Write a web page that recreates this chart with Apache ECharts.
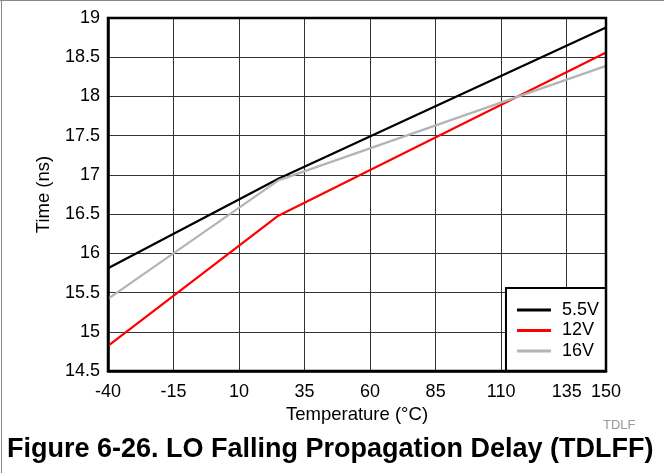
<!DOCTYPE html>
<html><head><meta charset="utf-8">
<script src="https://cdn.jsdelivr.net/npm/echarts@6/dist/echarts.min.js"></script>
<style>html,body{margin:0;padding:0;background:#fff}#c{width:664px;height:473px}</style>
</head><body><div id="c"></div>
<script>
const temps = [-40, 25, 150];
const v55 = [15.81, 16.95, 18.88];
const v12 = [14.82, 16.48, 18.56];
const v16 = [15.42, 16.93, 18.39];
const seriesNames = ['5.5V', '12V', '16V'];
const seriesColors = ['#000000', '#ff0000', '#b4b4b4'];
const xTitle = 'Temperature (°C)';
const yTitle = 'Time (ns)';
const figTitle = 'Figure 6-26. LO Falling Propagation Delay (TDLFF)';

const F = 'Liberation Sans, Arial, sans-serif';
const chart = echarts.init(document.getElementById('c'), null, {renderer: 'canvas'});
const pair = arr => temps.map((t, i) => [t, arr[i]]);
const datasets = [v55, v12, v16];
chart.setOption({
  animation: false,
  backgroundColor: '#fff',
  grid: {left: 108, right: 58, top: 18, bottom: 102},
  title: [
    {text: figTitle, left: 2, top: 431, textStyle: {fontFamily: F, fontSize: 27, fontWeight: 'bold', color: '#000'}},
    {text: 'TDLF', left: 598, top: 414, textStyle: {fontFamily: F, fontSize: 13, fontWeight: 'normal', color: '#999'}}
  ],
  legend: {
    orient: 'vertical', right: 58, bottom: 102,
    backgroundColor: '#fff', borderColor: '#000', borderWidth: 2, borderRadius: 0,
    padding: [13, 7, 11, 11], itemGap: 2.5, itemWidth: 34, itemHeight: 3, icon: 'rect',
    textStyle: {fontFamily: F, fontSize: 18, color: '#000', padding: [0, 0, 0, 6]},
    data: seriesNames
  },
  xAxis: {
    type: 'value', min: -40, max: 150, interval: 25,
    name: xTitle, nameLocation: 'middle', nameGap: 31,
    nameTextStyle: {fontFamily: F, fontSize: 18.5, color: '#000'},
    axisLine: {show: true, onZero: false, lineStyle: {color: '#000', width: 2.5}},
    axisTick: {show: false},
    axisLabel: {fontFamily: F, fontSize: 18, color: '#000', margin: 12},
    splitLine: {show: true, lineStyle: {color: '#333', width: 1}}
  },
  yAxis: {
    type: 'value', min: 14.5, max: 19, interval: 0.5,
    name: yTitle, nameLocation: 'middle', nameGap: 55,
    nameTextStyle: {fontFamily: F, fontSize: 18.5, color: '#000'},
    axisLine: {show: true, onZero: false, lineStyle: {color: '#000', width: 2.5}},
    axisTick: {show: false},
    axisLabel: {fontFamily: F, fontSize: 18, color: '#000', margin: 8},
    splitLine: {show: true, lineStyle: {color: '#333', width: 1}}
  },
  graphic: [
    {type: 'rect', shape: {x: 108, y: 18, width: 498, height: 353}, style: {fill: 'none', stroke: '#000', lineWidth: 2.5}, z: 10, silent: true},
    {type: 'line', shape: {x1: 0, y1: 0.5, x2: 664, y2: 0.5}, style: {stroke: '#888', lineWidth: 1}},
    {type: 'line', shape: {x1: 1.5, y1: 0, x2: 1.5, y2: 473}, style: {stroke: '#888', lineWidth: 1}}
  ],
  series: seriesNames.map((n, i) => ({
    name: n, type: 'line', data: pair(datasets[i]), symbol: 'none', showSymbol: false,
    lineStyle: {color: seriesColors[i], width: 2.2}, itemStyle: {color: seriesColors[i]}, z: 3
  }))
});
</script></body></html>
